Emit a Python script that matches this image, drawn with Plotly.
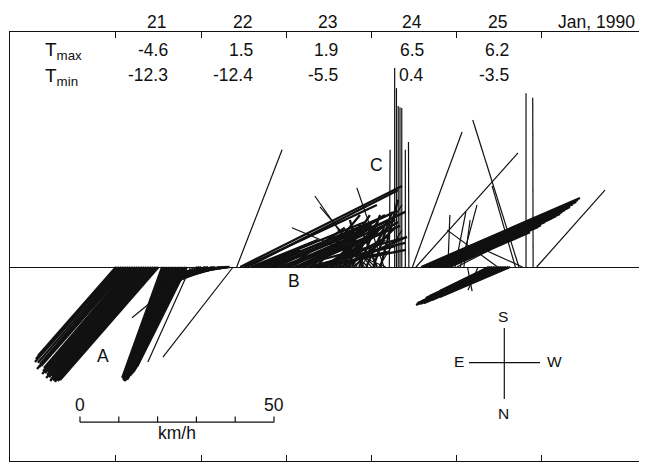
import plotly.graph_objects as go

# ---------------- data ----------------
# daily extreme air temperatures (deg C), 21-25 Jan 1990
days = [21, 22, 23, 24, 25]
day_labels = ["21", "22", "23", "24", "25"]
t_max = [-4.6, 1.5, 1.9, 6.5, 6.2]
t_min = [-12.3, -12.4, -5.5, 0.4, -3.5]

# wind sticks: hours after 21 Jan 1990 00:00, component toward W (km/h),
# component toward S (km/h)
# -- persistent winds (dense bundles)
band_hour = [0, 0.5, 1, 1.5, 2, 2.5, 3, 3.5, 4, 4.5, 5, 5.5, 6, 6.5, 7, 7.5, 8, 8.5,
             9, 9.5, 10, 10.5, 11, 11.5, 12,
             13, 13.5, 14, 14.5, 15, 15.5, 16, 16.5, 17, 17.5, 18, 18.5, 19, 19.5, 20,
             23, 23.5, 24, 25, 25.5, 26, 27, 27.5, 28, 29, 29.5, 30, 31, 31.5, 32,
             35, 36, 37, 38, 39, 40, 41, 42, 43, 44, 44.5, 45, 46, 46.5, 47, 48, 48.5,
             49, 50, 50.5, 51, 52, 52.5, 53, 54, 54.5, 55, 56, 56.5, 57, 58, 58.5,
             59, 60, 60.5, 61, 62, 62.5, 63, 64, 64.5, 65, 66, 66.5, 67,
             68.5, 69.5, 70.5, 72.5, 73.5, 74.5,
             86, 86.5, 87, 87.5, 88, 88.5, 89, 89.5, 90, 90.5, 91, 91.5, 92, 92.5, 93, 94,
             105, 105.5, 106, 106.5, 107, 108, 108.5, 109, 109.5, 110, 110.5, 111]
band_to_w = [-20.1, -21.1, -21.8, -21.5, -21.4, -22.1, -23.1, -22.5, -22.2, -22.9, -23.6, -23.3,
             -23.0, -23.7, -24.4, -24.1, -23.8, -24.5, -25.2, -24.9, -24.6, -25.6, -25.8, -25.5, -25.4,
             -10.3, -10.5, -10.7, -11.0, -11.1, -11.3, -12.3, -12.0, -12.5, -12.4, -12.6, -12.6,
             -12.7, -12.9, -12.9,
             -12.3, -12.2, -11.9, -11.5, -12.8, -13.0, -12.8, -13.6, -14.3, -13.9, -14.6, -15.3,
             -15.0, -15.4, -15.4,
             41.7, 34.3, 38.8, 17.3, 28.5, 10.8, 22.3, 30.9, 15.8, 25.7, 19.6, 30.7, 16.2, 22.9,
             27.6, 18.5, 14.6,
             29.7, 29.3, 25.7, 20.9, 25.6, 21.3, 14.9, 25.1, 16.9, 21.6, 14.7, 11.2, 22.6, 17.0, 14.5,
             18.7, 6.7, 10.6, 14.8, 8.7, 12.9, 16.6, 4.3, 8.5, 9.9, 0.4, 4.6, 10.6,
             5.4, -3.3, 4.8, 4.8, -4.4, 4.5,
             40.9, 39.9, 39.0, 37.7, 36.5, 35.5, 34.3, 33.1, 32.1, 30.6, 29.1, 27.6, 26.4, 24.9,
             23.7, 20.7,
             -12.6, -14.3, -16.1, -17.6, -19.0, -21.0, -21.7, -22.4, -21.8, -21.3, -19.7, -18.1]
band_to_s = [-22.9, -23.7, -24.5, -24.7, -25.0, -25.8, -26.3, -25.5, -26.0, -26.8, -27.6, -27.3,
             -27.1, -27.8, -28.6, -28.4, -28.1, -28.9, -29.4, -29.1, -28.9, -29.4, -29.6, -29.4, -29.1,
             -28.6, -29.1, -29.4, -29.1, -28.9, -29.1, -29.4, -28.6, -28.6, -28.1, -27.8, -27.3,
             -26.8, -26.3, -25.8,
             -8.5, -7.5, -6.4, -5.9, -6.2, -5.4, -4.9, -5.2, -4.4, -3.9, -4.1, -3.4,
             -2.6, -2.3, -1.5,
             20.9, 16.0, 19.8, 7.0, 11.6, 4.4, 9.0, 13.1, 6.4, 10.6, 8.2, 14.2, 5.9, 7.5,
             12.1, 8.0, 10.1,
             14.2, 7.7, 12.1, 9.0, 10.6, 13.4, 7.0, 6.2, 10.8, 5.4, 5.2, 13.4, 4.4, 3.9, 10.1,
             11.6, 7.0, 8.2, 8.2, 13.4, 11.6, 7.5, 10.8, 11.6, 7.0, 9.0, 9.5, 10.1,
             13.4, 12.1, 10.8, 14.2, 10.8, 17.3,
             17.8, 17.3, 16.8, 16.2, 15.5, 15.2, 14.7, 14.2, 13.7, 13.1, 12.6, 12.1, 11.6, 10.8,
             10.3, 9.0,
             -6.2, -7.0, -7.5, -8.0, -8.8, -9.3, -9.5, -9.8, -9.5, -9.3, -8.5, -7.7]

# -- isolated sticks
line_hour = [21, 22, 33, 34,
             68, 69, 70, 71, 72, 73, 74, 75.5, 76,
             77, 78.5, 79, 79.5, 80, 80.5, 81.5, 82.5,
             83.5, 84.5,
             93.5, 95.5, 96, 97, 98, 99, 102, 107.5,
             112.5, 113.5, 114.5, 115.5, 117.5, 118.5]
line_to_w = [-11.0, -16.0, -18.1, 11.7,
             -5.8, 10.6, -12.8, -5.9, -13.3, -9.6, 6.0, -7.0, -24.2,
             0.2, 0.0, 0.0, 0.0, 0.0, 0.0, 0.0, -0.1,
             12.8, 26.3,
             0.5, 2.8, 19.6, 4.3, 1.6, 1.2, -2.6, -13.0,
             -6.0, -11.9, -11.5, 0.0, -0.1, 17.6]
line_to_s = [-24.5, -13.1, -23.2, 30.2,
             7.5, 16.0, 18.3, 5.7, 15.5, 9.5, 9.5, 20.4, 10.1,
             30.2, 51.3, 46.1, 41.5, 41.2, 41.0, 30.2, 32.2,
             34.8, 29.4,
             13.4, 14.2, 10.1, 16.0, 12.1, -6.2, -5.9, 9.5,
             20.9, 37.9, 5.2, 44.8, 43.6, 19.8]

scale_kmh = [0, 10, 20, 30, 40, 50]
compass_labels = ["S", "N", "E", "W"]
group_labels = ["A", "B", "C"]

# ---------------- geometry ----------------
# the page body has an 8 px margin, so the figure is drawn 8 px in
OFF = 8
W, H = 647 - OFF, 462 - OFF
M = dict(l=2, r=4, t=24, b=1)
X_RANGE = [19.756, 27.1855]
Y_RANGE = [-50.0, 60.567]
plot_w = W - M["l"] - M["r"]
plot_h = H - M["t"] - M["b"]
px_per_day = plot_w / (X_RANGE[1] - X_RANGE[0])
px_per_kmh = plot_h / (Y_RANGE[1] - Y_RANGE[0])
DAYS_PER_KMH = px_per_kmh / px_per_day   # isotropic sticks


def px_to_paper(x, y):
    """screen pixel (reference picture) -> paper coordinates"""
    x -= OFF
    y -= OFF
    return (x - M["l"]) / plot_w, (H - M["b"] - y) / plot_h


def sticks(hours, tw, ts):
    xs, ys = [], []
    for h, u, v in zip(hours, tw, ts):
        x0 = 21 + h / 24.0
        xs += [x0, x0 + u * DAYS_PER_KMH, None]
        ys += [0, v, None]
    return xs, ys


INK = "#111111"
FONT = "Liberation Sans, Arial, Helvetica, sans-serif"

fig = go.Figure()
bx, by = sticks(band_hour, band_to_w, band_to_s)
fig.add_trace(go.Scatter(x=bx, y=by, mode="lines", line=dict(color=INK, width=2.3),
                         hoverinfo="skip", showlegend=False))
lx, ly = sticks(line_hour, line_to_w, line_to_s)
fig.add_trace(go.Scatter(x=lx, y=ly, mode="lines", line=dict(color=INK, width=1.2),
                         hoverinfo="skip", showlegend=False))

# scale bar (0-50 km/h)
sb_x0 = 20.5775
sb_y = -40.0
sx = [sb_x0, sb_x0 + scale_kmh[-1] * DAYS_PER_KMH, None]
sy = [sb_y, sb_y, None]
for k in scale_kmh:
    xx = sb_x0 + k * DAYS_PER_KMH
    sx += [xx, xx, None]
    sy += [sb_y, sb_y + 1.5, None]
fig.add_trace(go.Scatter(x=sx, y=sy, mode="lines", line=dict(color=INK, width=1.2),
                         hoverinfo="skip", showlegend=False))

ann = []
def txt(x, y, s, size=17.5, xref="x", yref="y", xanchor="center", yanchor="middle"):
    ann.append(dict(x=x, y=y, xref=xref, yref=yref, text=s, showarrow=False,
                    xanchor=xanchor, yanchor=yanchor,
                    font=dict(family=FONT, size=size, color=INK)))

# header row
for d, lab in zip(days, day_labels):
    txt(d + 0.48, px_to_paper(0, 21.5)[1], lab, yref="paper")
txt(26.645, px_to_paper(0, 21.5)[1], "Jan, 1990", yref="paper")

# temperature rows
txt(px_to_paper(43, 0)[0], px_to_paper(0, 51)[1], "T<sub>max</sub>", size=19,
    xref="paper", yref="paper", xanchor="left")
txt(px_to_paper(43, 0)[0], px_to_paper(0, 77)[1], "T<sub>min</sub>", size=19,
    xref="paper", yref="paper", xanchor="left")
for d, a, b in zip(days, t_max, t_min):
    txt(d + 0.634, px_to_paper(0, 50)[1], f"{a:.1f}", yref="paper", xanchor="right")
    txt(d + 0.634, px_to_paper(0, 75.5)[1], f"{b:.1f}", yref="paper", xanchor="right")

# group letters
txt(20.848, -23.0, group_labels[0])
txt(23.09, -3.5, group_labels[1])
txt(24.063, 26.3, group_labels[2])

# scale labels
txt(sb_x0, -35.6, str(scale_kmh[0]))
txt(sb_x0 + scale_kmh[-1] * DAYS_PER_KMH, -35.6, str(scale_kmh[-1]))
txt(sb_x0 + 0.5 * scale_kmh[-1] * DAYS_PER_KMH, -42.9, "km/h")

# compass
cx, cy = 504.3, 362.7
for lab, (px, py) in zip(compass_labels,
                         [(503, 316), (503, 413), (459, 362), (554, 362)]):
    xp, yp = px_to_paper(px, py)
    txt(xp, yp, lab, size=15.5, xref="paper", yref="paper")

shapes = []
for (x0, y0, x1, y1) in [(cx, 328, cx, 399), (469, cy, 540, cy)]:
    a0 = px_to_paper(x0, y0)
    a1 = px_to_paper(x1, y1)
    shapes.append(dict(type="line", xref="paper", yref="paper",
                       x0=a0[0], y0=a0[1], x1=a1[0], y1=a1[1],
                       line=dict(color=INK, width=1.2)))

fig.update_layout(
    width=W, height=H, margin=dict(l=M["l"], r=M["r"], t=M["t"], b=M["b"], autoexpand=False),
    paper_bgcolor="white", plot_bgcolor="white",
    annotations=ann, shapes=shapes, showlegend=False,
    xaxis=dict(range=X_RANGE, showgrid=False, zeroline=False, showline=True,
               linecolor=INK, linewidth=1.3, mirror="allticks", ticks="inside",
               ticklen=6, tickwidth=1.3, tickcolor=INK,
               tickvals=days + [26], showticklabels=False, automargin=False,
               fixedrange=True),
    yaxis=dict(range=Y_RANGE, showgrid=False, zeroline=True, zerolinecolor=INK,
               zerolinewidth=1.3, showline=True, linecolor=INK, linewidth=1.3,
               mirror=True, ticks="", showticklabels=False, automargin=False,
               fixedrange=True),
)

fig.write_html("out.html")
